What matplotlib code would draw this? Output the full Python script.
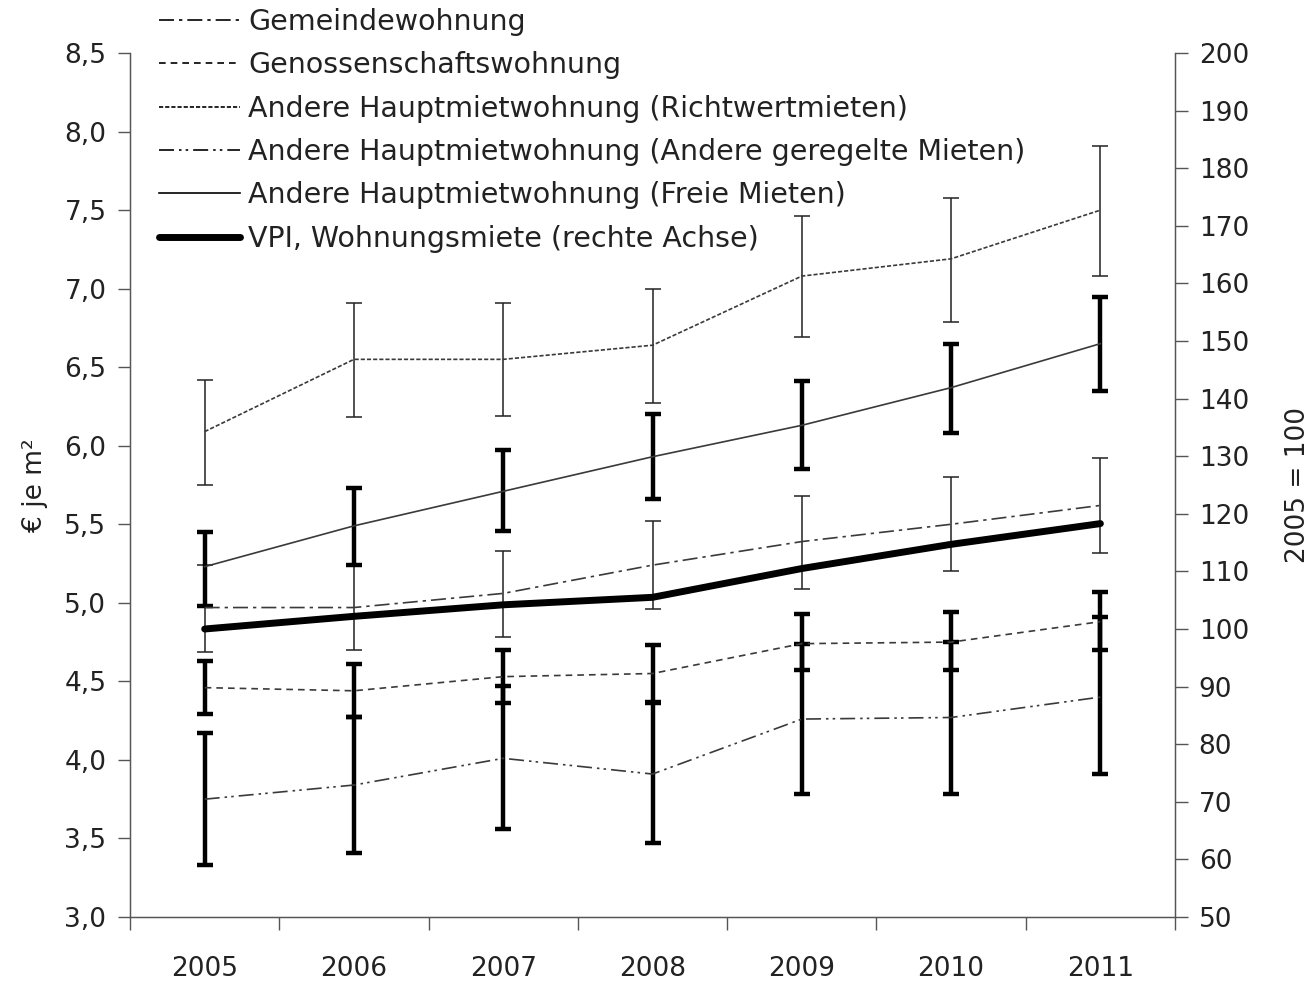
import matplotlib
matplotlib.use("Agg")
import matplotlib.pyplot as plt
from matplotlib.lines import Line2D
from matplotlib.ticker import FuncFormatter
import numpy as np

plt.rcParams['font.family'] = ['DejaVu Sans']

years = ["2005", "2006", "2007", "2008", "2009", "2010", "2011"]

gemeinde = [4.97, 4.97, 5.06, 5.24, 5.39, 5.50, 5.62]
gemeinde_lo = [4.69, 4.70, 4.78, 4.96, 5.09, 5.20, 5.32]
gemeinde_hi = [5.24, 5.25, 5.33, 5.52, 5.68, 5.80, 5.92]

genoss = [4.46, 4.44, 4.53, 4.55, 4.74, 4.75, 4.88]
genoss_lo = [4.29, 4.27, 4.36, 4.37, 4.57, 4.57, 4.70]
genoss_hi = [4.63, 4.61, 4.70, 4.73, 4.93, 4.94, 5.07]

richtwert = [6.09, 6.55, 6.55, 6.64, 7.08, 7.19, 7.50]
richtwert_lo = [5.75, 6.18, 6.19, 6.27, 6.69, 6.79, 7.08]
richtwert_hi = [6.42, 6.91, 6.91, 7.00, 7.46, 7.58, 7.91]

geregelt = [3.75, 3.84, 4.01, 3.91, 4.26, 4.27, 4.40]
geregelt_lo = [3.33, 3.41, 3.56, 3.47, 3.78, 3.78, 3.91]
geregelt_hi = [4.17, 4.27, 4.47, 4.36, 4.74, 4.75, 4.91]

frei = [5.23, 5.49, 5.71, 5.93, 6.13, 6.37, 6.65]
frei_lo = [4.98, 5.24, 5.46, 5.66, 5.85, 6.08, 6.35]
frei_hi = [5.45, 5.73, 5.97, 6.20, 6.41, 6.65, 6.95]

vpi = [100.0, 102.2, 104.2, 105.5, 110.5, 114.7, 118.3]

labels = ["Gemeindewohnung",
          "Genossenschaftswohnung",
          "Andere Hauptmietwohnung (Richtwertmieten)",
          "Andere Hauptmietwohnung (Andere geregelte Mieten)",
          "Andere Hauptmietwohnung (Freie Mieten)",
          "VPI, Wohnungsmiete (rechte Achse)"]

fig = plt.figure(figsize=(13.12, 9.86), dpi=100)
ax = fig.add_axes([0.0991, 0.070, 0.7965, 0.8762])
x = np.arange(len(years))

linecol = "#3a3a3a"
styles = {
    "gemeinde": (0, (9, 3, 2, 3)),
    "genoss": (0, (4, 3)),
    "richtwert": (0, (2.5, 1.2)),
    "geregelt": (0, (9, 3, 1.5, 2.5, 1.5, 3)),
    "frei": "-",
}

def eb(mean, lo, hi, thick):
    m = np.array(mean); l = np.array(lo); h = np.array(hi)
    ax.errorbar(x, m, yerr=[m - l, h - m], fmt="none",
                ecolor="black" if thick else "#222222",
                elinewidth=3.2 if thick else 1.1,
                capsize=5.8, capthick=3.2 if thick else 1.1, zorder=2)

eb(gemeinde, gemeinde_lo, gemeinde_hi, False)
eb(richtwert, richtwert_lo, richtwert_hi, False)
eb(genoss, genoss_lo, genoss_hi, True)
eb(geregelt, geregelt_lo, geregelt_hi, True)
eb(frei, frei_lo, frei_hi, True)

lw = 1.2
ax.plot(x, gemeinde, color=linecol, lw=lw, linestyle=styles["gemeinde"], zorder=3)
ax.plot(x, genoss, color=linecol, lw=lw, linestyle=styles["genoss"], zorder=3)
ax.plot(x, richtwert, color=linecol, lw=lw, linestyle=styles["richtwert"], zorder=3)
ax.plot(x, geregelt, color=linecol, lw=lw, linestyle=styles["geregelt"], zorder=3)
ax.plot(x, frei, color=linecol, lw=lw, linestyle=styles["frei"], zorder=3)

ax.set_xlim(-0.5, 6.5)
ax.set_ylim(3.0, 8.5)
ax.set_yticks(np.arange(3.0, 8.51, 0.5))
ax.yaxis.set_major_formatter(FuncFormatter(lambda v, p: f"{v:.1f}".replace(".", ",")))
ax.set_xticks(np.arange(-0.5, 6.6, 1.0))
ax.set_xticklabels([])
ax.set_xticks(x, minor=True)
ax.set_xticklabels(years, minor=True)
ax.tick_params(axis="x", which="minor", length=0, labelsize=19, pad=28, colors="#222222")
ax.tick_params(axis="x", which="major", length=9, width=1, color="#555555")
ax.tick_params(axis="y", length=9, width=1, labelsize=19, pad=8, color="#555555", labelcolor="#222222")
ax.spines["top"].set_visible(False)
for s in ["left", "bottom", "right"]:
    ax.spines[s].set_color("#555555")
    ax.spines[s].set_linewidth(1)
ax.set_ylabel("€ je m²", fontsize=19, color="#222222", labelpad=12)

ax2 = ax.twinx()
ax2.plot(x, vpi, color="black", lw=5, solid_capstyle="round", zorder=4)
ax2.set_ylim(50, 200)
ax2.set_yticks(np.arange(50, 201, 10))
ax2.tick_params(axis="y", length=9, width=1, labelsize=19, pad=8, color="#555555", labelcolor="#222222")
ax2.spines["top"].set_visible(False)
for s in ["left", "bottom", "right"]:
    ax2.spines[s].set_color("#555555")
ax2.set_ylabel("2005 = 100", fontsize=19, color="#222222", labelpad=26)

handles = [
    Line2D([], [], color="black", lw=lw, linestyle=styles["gemeinde"]),
    Line2D([], [], color="black", lw=lw, linestyle=styles["genoss"]),
    Line2D([], [], color="black", lw=lw, linestyle=styles["richtwert"]),
    Line2D([], [], color="black", lw=lw, linestyle=styles["geregelt"]),
    Line2D([], [], color="black", lw=lw, linestyle=styles["frei"]),
    Line2D([], [], color="black", lw=5, solid_capstyle="round"),
]
fig.legend(handles, labels, loc="upper left", bbox_to_anchor=(0.121, 0.992),
           frameon=False, fontsize=20.5, handlelength=2.85, handletextpad=0.3,
           labelspacing=0.54, borderaxespad=0, borderpad=0, labelcolor="#222222")

fig.savefig("out.png", dpi=100)
